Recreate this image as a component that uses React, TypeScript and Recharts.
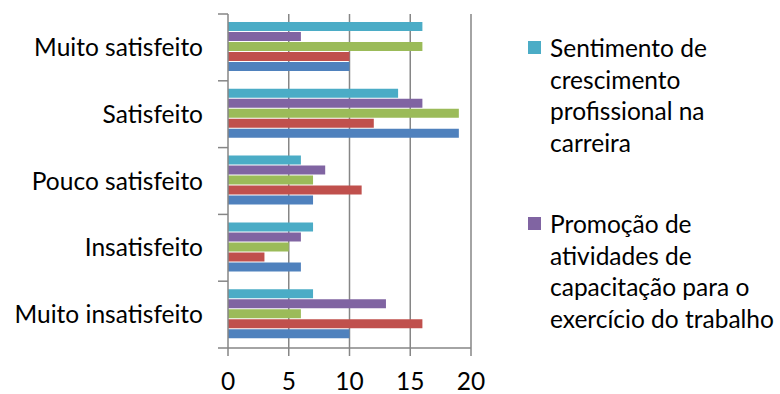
import React from 'react';
import { BarChart, Bar, XAxis, YAxis, CartesianGrid, Legend } from 'recharts';

const categories = ['Muito satisfeito', 'Satisfeito', 'Pouco satisfeito', 'Insatisfeito', 'Muito insatisfeito'];

// top to bottom inside each group
const crescimento = [16, 14, 6, 7, 7];
const capacitacao = [6, 16, 8, 6, 13];
const serie3 = [16, 19, 7, 5, 6];
const serie4 = [10, 12, 11, 3, 16];
const serie5 = [10, 19, 7, 6, 10];

const xTicks = [0, 5, 10, 15, 20];

const series = [
  { key: 'crescimento', name: 'Sentimento de crescimento profissional na carreira', color: '#4BACC6', values: crescimento },
  { key: 'capacitacao', name: 'Promoção de atividades de capacitação para o exercício do trabalho', color: '#8064A2', values: capacitacao },
  { key: 'serie3', name: 'Série 3', color: '#9BBB59', values: serie3 },
  { key: 'serie4', name: 'Série 4', color: '#C0504D', values: serie4 },
  { key: 'serie5', name: 'Série 5', color: '#4F81BD', values: serie5 },
];

// legend only shows the first two series (cut off in the original)
const legendLines: Record<string, string[]> = {
  crescimento: ['Sentimento de', 'crescimento', 'profissional na', 'carreira'],
  capacitacao: ['Promoção de', 'atividades de', 'capacitação para o', 'exercício do trabalho'],
};
const legendOrder = ['crescimento', 'capacitacao'];

const data = categories.map((c, i) => {
  const row: Record<string, string | number> = { name: c };
  series.forEach((s) => (row[s.key] = s.values[i]));
  return row;
});

const FONT = 'Lato, Calibri, Carlito, sans-serif';
const FS = 24.5;
const AXIS = '#868686';
const TOP = 14;
const PLOT_H = 334;
const BAND = PLOT_H / categories.length;

const CategoryTick = (props: any) => {
  const { x, y, payload, index } = props;
  return (
    <g>
      <line x1={x - 10} x2={x} y1={y - BAND / 2} y2={y - BAND / 2} stroke={AXIS} strokeWidth={1.5} />
      {index === categories.length - 1 && (
        <line x1={x - 10} x2={x} y1={y + BAND / 2} y2={y + BAND / 2} stroke={AXIS} strokeWidth={1.5} />
      )}
      <text x={x - 25} y={y} dy="0.35em" textAnchor="end" fontSize={FS} fontFamily={FONT} fill="#000">
        {payload.value}
      </text>
    </g>
  );
};

const LegendContent = (props: any) => {
  const items = (props.payload || [])
    .filter((p: any) => legendLines[p.dataKey])
    .sort((a: any, b: any) => legendOrder.indexOf(a.dataKey) - legendOrder.indexOf(b.dataKey));
  return (
    <div style={{ fontFamily: FONT, fontSize: FS, color: '#000' }}>
      {items.map((p: any, i: number) => (
        <div key={p.dataKey} style={{ display: 'flex', marginTop: i === 0 ? 0 : 50 }}>
          <div style={{ width: 13, height: 13, background: p.color, marginTop: 9, marginRight: 9, flex: 'none' }} />
          <div style={{ lineHeight: '31.5px', whiteSpace: 'nowrap' }}>
            {legendLines[p.dataKey].map((l) => (
              <div key={l}>{l}</div>
            ))}
          </div>
        </div>
      ))}
    </div>
  );
};

export default function App() {
  return (
    <div style={{ position: 'absolute', left: 0, top: 0, width: 780, height: 394, background: '#fff' }}>
      <BarChart
        width={780}
        height={394}
        data={data}
        layout="vertical"
        margin={{ top: TOP, right: 57, bottom: 0, left: 0 }}
        barCategoryGap={8}
        barGap={1}
      >
        <CartesianGrid horizontal={false} stroke={AXIS} strokeWidth={1.5} verticalValues={[5, 10, 15, 20]} />
        <XAxis
          type="number"
          domain={[0, 20]}
          ticks={xTicks}
          interval={0}
          axisLine={{ stroke: AXIS, strokeWidth: 1.5 }}
          tickLine={{ stroke: AXIS, strokeWidth: 1.5 }}
          tickSize={8}
          tickMargin={17}
          tick={{ fontSize: FS, fontFamily: FONT, fill: '#000' }}
          height={46}
        />
        <YAxis
          type="category"
          dataKey="name"
          width={228}
          axisLine={{ stroke: AXIS, strokeWidth: 1.5 }}
          tickLine={false}
          tickSize={0}
          tickMargin={0}
          tick={<CategoryTick />}
          interval={0}
        />
        <Legend
          layout="vertical"
          verticalAlign="top"
          align="right"
          content={<LegendContent />}
          wrapperStyle={{ left: 528, top: 32, width: 252 }}
        />
        {series.map((s) => (
          <Bar key={s.key} dataKey={s.key} name={s.name} fill={s.color} isAnimationActive={false} />
        ))}
      </BarChart>
    </div>
  );
}
